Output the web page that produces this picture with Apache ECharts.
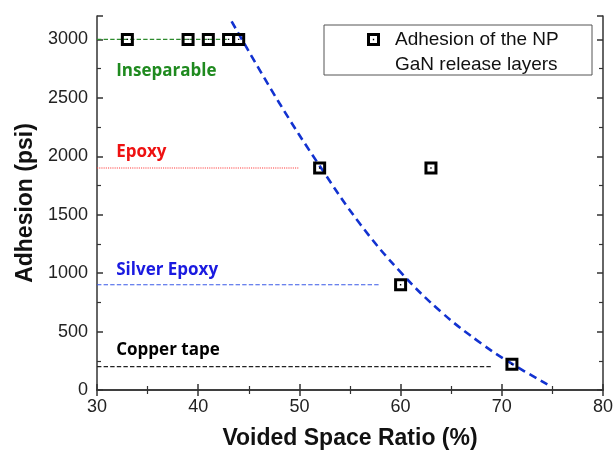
<!DOCTYPE html>
<html><head><meta charset="utf-8">
<script src="https://cdn.jsdelivr.net/npm/echarts@6/dist/echarts.min.js"></script>
<style>html,body{margin:0;padding:0;background:#fff}#c{width:614px;height:451px}</style>
</head><body><div id="c"></div>
<script>
// Measured data (Voided space ratio %, adhesion psi)
const ratio = [33, 39, 41, 43, 44, 52, 63, 60, 71];
const adhesion = [3000, 3000, 3000, 3000, 3000, 1900, 1900, 900, 220];
// Fitted trend (dashed blue)
const fitX = [43.3, 48, 52, 56, 60, 64, 68, 71.1, 74.5];
const fitY = [3154, 2458, 1918, 1420, 1008, 668, 396, 219, 49];
// Reference levels
const refNames = ['Inseparable', 'Epoxy', 'Silver Epoxy', 'Copper tape'];
const refLevel = [3000, 1900, 900, 200];
const refEndX = [43, 50, 58, 69];
const refLabelY = [2726, 2031, 1029, 343];
const refLabelX = 31.9;
const refColors = ['#1f8a1f', '#ee1111', '#1a1ae0', '#000000'];
const refLineColors = ['#2e8b2e', '#ff3b3b', '#3a5ae8', '#222222'];
const refLineTypes = ['dashed', 'dotted', 'dashed', 'dashed'];
const xTicks = [30, 40, 50, 60, 70, 80];
const yTicks = [0, 500, 1000, 1500, 2000, 2500, 3000];

const markerPath = 'path://M0,0 L13,0 L13,13 L0,13 Z M3,3 L3,10 L10,10 L10,3 Z M5.8,5.8 L7.2,5.8 L7.2,7.2 L5.8,7.2 Z';
// legend icon: same square, placed at the top of a taller (invisible) box so it lines up with the first text line
const legendIconPath = 'path://M0,0 L13,0 L13,13 L0,13 Z M3,3 L3,10 L10,10 L10,3 Z M5.8,5.8 L7.2,5.8 L7.2,7.2 L5.8,7.2 Z M6.5,38 L6.51,38 L6.5,38.01 Z';
const legendName = 'Adhesion of the NP\nGaN release layers';

const chart = echarts.init(document.getElementById('c'));
const axisCommon = {
  axisLine: {show: true, lineStyle: {color: '#333', width: 1.5}},
  axisTick: {show: true, inside: true, length: 6, lineStyle: {color: '#333', width: 1.5}},
  minorTick: {show: true, splitNumber: 2, length: 4, lineStyle: {color: '#333', width: 1.2}},
  splitLine: {show: false}
};
const series = [];
series.push({
  name: legendName, type: 'scatter', symbol: markerPath, symbolSize: 13,
  itemStyle: {color: '#000', opacity: 1}, z: 5,
  data: ratio.map((x, i) => [x, adhesion[i]])
});
series.push({
  name: 'fit', type: 'line', smooth: 0.4, showSymbol: false, symbol: 'none',
  lineStyle: {color: '#1232d0', width: 2.6, type: [8, 5]}, z: 4,
  data: fitX.map((x, i) => [x, fitY[i]])
});
refNames.forEach((n, i) => {
  series.push({
    name: n + ' line', type: 'line', symbol: 'none', z: 2,
    lineStyle: {color: refLineColors[i], width: 1.1, type: refLineTypes[i]},
    data: [[30, refLevel[i]], [refEndX[i], refLevel[i]]]
  });
});
series.push({
  name: 'labels', type: 'scatter', symbolSize: 0, z: 6, silent: true,
  itemStyle: {opacity: 1},
  data: refNames.map((n, i) => ({
    value: [refLabelX, refLabelY[i]],
    label: {show: true, position: 'right', distance: 0, formatter: n, opacity: 1,
      color: refColors[i], fontFamily: 'Open Sans', fontWeight: 'bold', fontSize: 17}
  }))
});

chart.setOption({
  animation: false,
  backgroundColor: '#fff',
  grid: {left: 97, right: 11, top: 16, bottom: 61, containLabel: false, outerBoundsMode: 'none'},
  graphic: [{type: 'rect', shape: {x: 324, y: 25, width: 268, height: 50},
    style: {fill: 'none', stroke: '#555', lineWidth: 1}, z: 10}],
  legend: {
    data: [{name: legendName, icon: legendIconPath}],
    left: 367, top: 27, padding: 0,
    itemWidth: 33, itemHeight: 38,
    textStyle: {fontFamily: 'Liberation Sans', fontSize: 19, color: '#111', lineHeight: 25}
  },
  xAxis: [
    Object.assign({type: 'value', min: 30, max: 80, interval: 10, position: 'bottom',
      name: 'Voided Space Ratio (%)', nameLocation: 'middle', nameGap: 37,
      nameTextStyle: {fontFamily: 'Liberation Sans', fontWeight: 'bold', fontSize: 23, color: '#111'},
      axisLabel: {fontFamily: 'Liberation Sans', fontSize: 18, color: '#222', margin: 8,
        formatter: v => xTicks.includes(v) ? String(v) : ''}}, axisCommon),
    Object.assign({type: 'value', min: 30, max: 80, interval: 10, position: 'top',
      axisLabel: {show: false}}, axisCommon)
  ],
  yAxis: [
    Object.assign({type: 'value', min: 0, max: 3200, interval: 500, position: 'left',
      name: 'Adhesion (psi)', nameLocation: 'middle', nameGap: 58,
      nameTextStyle: {fontFamily: 'Liberation Sans', fontWeight: 'bold', fontSize: 23, color: '#111'},
      axisLabel: {fontFamily: 'Liberation Sans', fontSize: 18, color: '#222', margin: 9, showMaxLabel: false,
        formatter: v => yTicks.includes(v) ? String(v) : ''}}, axisCommon),
    Object.assign({type: 'value', min: 0, max: 3200, interval: 500, position: 'right',
      axisLabel: {show: false}}, axisCommon)
  ],
  series: series
});
</script></body></html>
